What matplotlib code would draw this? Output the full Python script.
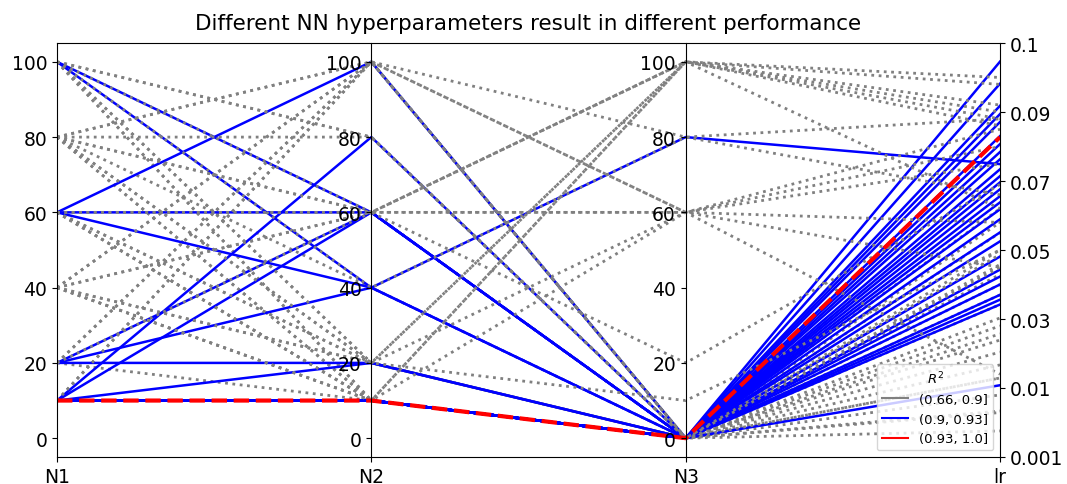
import numpy as np
import pandas as pd
import matplotlib
matplotlib.use("Agg")
import matplotlib.pyplot as plt
from matplotlib.lines import Line2D

title = "Different NN hyperparameters result in different performance"
axis_names = ["N1", "N2", "N3", "lr"]
n_ticks = [0, 20, 40, 60, 80, 100]
lr_tick_values = [0.001, 0.01, 0.03, 0.05, 0.07, 0.09, 0.1]
lr_tick_labels = ["0.001", "0.01", "0.03", "0.05", "0.07", "0.09", "0.1"]
r2_bins = [0.66, 0.9, 0.93, 1.0]
bin_colors = ["grey", "blue", "red"]

# samples in drawing order
N1 = [100, 80, 60, 60, 40, 20, 80, 40, 20, 10, 80, 40, 80, 100, 80, 40, 100, 60,
      60, 10, 100, 60, 20, 10, 100, 60, 20, 20, 10,
      10, 10, 10, 10, 10, 10, 10, 10, 10, 10, 10, 10, 10, 10, 10, 10, 10,
      80, 100, 80, 100, 60, 20, 100, 80, 40, 60, 80, 100, 10, 60, 40, 40, 40, 80, 60, 20, 100, 40,
      10]
N2 = [10, 10, 10, 10, 10, 10, 10, 100, 100, 100, 60, 60, 20, 20, 40, 20, 10, 20,
      100, 80, 60, 60, 60, 60, 40, 40, 40, 20, 20,
      10, 10, 10, 10, 10, 10, 10, 10, 10, 10, 10, 10, 10, 10, 10, 10, 10,
      100, 80, 80, 60, 60, 60, 20, 20, 10, 10, 100, 40, 100, 60, 60, 20, 10, 60, 20, 100, 80, 100,
      10]
N3 = [0, 0, 0, 0, 0, 0, 0, 0, 0, 0, 0, 0, 0, 0, 0, 0, 0, 0,
      0, 0, 0, 0, 0, 0, 80, 0, 0, 0, 0,
      0, 0, 0, 0, 0, 0, 0, 0, 0, 0, 0, 0, 0, 0, 0, 0, 0,
      0, 0, 0, 100, 100, 100, 100, 100, 100, 100, 80, 80, 60, 60, 60, 60, 60, 20, 10, 60, 0, 0,
      0]
lr = [0.0458, 0.040, 0.0239, 0.0204, 0.0044, 0.050, 0.028, 0.055, 0.0303, 0.037,
      0.0342, 0.0167, 0.0129, 0.0068, 0.0091, 0.062, 0.0429, 0.058,
      0.0973, 0.0909, 0.0871, 0.0784, 0.0696, 0.0618, 0.0749, 0.0525, 0.0443, 0.0370, 0.0108,
      0.0941, 0.0894, 0.0830, 0.0807, 0.0763, 0.0734, 0.0714, 0.0676, 0.0656, 0.0638,
      0.0589, 0.0551, 0.0481, 0.0423, 0.0400, 0.0356, 0.0342,
      0.0487, 0.0257, 0.045, 0.090, 0.095, 0.088, 0.086, 0.094, 0.062, 0.091,
      0.088, 0.066, 0.085, 0.080, 0.075, 0.045, 0.014, 0.069, 0.050, 0.058, 0.0129, 0.0070,
      0.0827]
r2 = [0.81, 0.77, 0.85, 0.72, 0.88, 0.69, 0.83, 0.86, 0.74, 0.79, 0.87, 0.82, 0.71, 0.89, 0.84, 0.78, 0.76, 0.67,
      0.912, 0.905, 0.918, 0.921, 0.909, 0.914, 0.903, 0.926, 0.911, 0.907, 0.902,
      0.915, 0.919, 0.924, 0.917, 0.908, 0.913, 0.921, 0.906, 0.916, 0.910,
      0.923, 0.904, 0.918, 0.912, 0.909, 0.927, 0.914,
      0.88, 0.80, 0.73, 0.75, 0.70, 0.79, 0.68, 0.72, 0.77, 0.81, 0.74, 0.71, 0.85, 0.76, 0.87, 0.69,
      0.73, 0.78, 0.82, 0.84, 0.86, 0.70,
      0.947]

assert len(N1) == len(N2) == len(N3) == len(lr) == len(r2)

df = pd.DataFrame({"N1": N1, "N2": N2, "N3": N3, "lr": lr, "r2": r2})
df["cat"] = pd.cut(df["r2"], bins=r2_bins)
cats = list(df["cat"].cat.categories)

ymin, ymax = -5, 105
lr_tick_pos = np.linspace(ymin, ymax, len(lr_tick_values))
df["lr_pos"] = np.interp(df["lr"], lr_tick_values, lr_tick_pos)

fig = plt.figure(figsize=(10.67, 4.85), dpi=100)
host = fig.add_axes([57 / 1067, 27 / 485, 943 / 1067, 414 / 485])
host.set_xlim(0, 3)
host.set_ylim(ymin, ymax)
host.set_xticks(range(4))
host.set_xticklabels(axis_names)
host.set_yticks(n_ticks)
host.tick_params(labelsize=13.5)
host.spines["right"].set_visible(False)

for i in (1, 2):
    ax = host.twinx()
    ax.set_ylim(ymin, ymax)
    for s in ("top", "bottom", "right"):
        ax.spines[s].set_visible(False)
    ax.spines["left"].set_visible(True)
    ax.spines["left"].set_position(("axes", i / 3))
    ax.yaxis.set_ticks_position("left")
    ax.yaxis.set_label_position("left")
    ax.set_yticks(n_ticks)
    ax.tick_params(labelsize=13.5)

axl = host.twinx()
axl.set_ylim(ymin, ymax)
axl.set_yticks(lr_tick_pos)
axl.set_yticklabels(lr_tick_labels)
axl.tick_params(labelsize=13.5)
for s in ("top", "bottom", "left"):
    axl.spines[s].set_visible(False)

styles = {0: dict(color="grey", ls=":", lw=2.0),
          1: dict(color="blue", ls="-", lw=1.8),
          2: dict(color="red", ls="--", lw=3.0)}
xs = [0, 1, 2, 3]
for _, row in df.iterrows():
    k = cats.index(row["cat"])
    host.plot(xs, [row["N1"], row["N2"], row["N3"], row["lr_pos"]], **styles[k])

handles = [Line2D([0], [0], color=c, lw=1.5) for c in bin_colors]
leg = host.legend(handles, [str(c) for c in cats], title="$R^2$", loc="lower right",
                  fontsize=9.5, title_fontsize=9.5)
leg.set_zorder(10)

host.set_title(title, fontsize=15.5, pad=10)
fig.savefig("out.png", dpi=100)
